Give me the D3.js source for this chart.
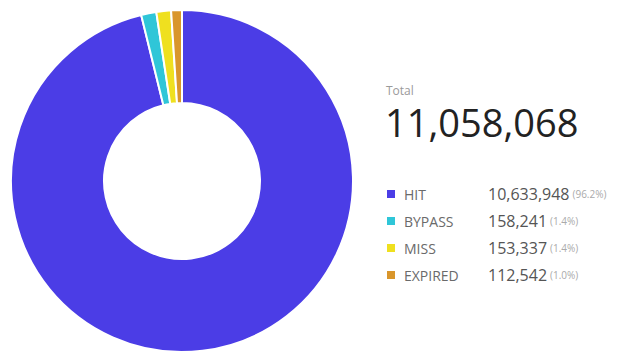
<!DOCTYPE html>
<html>
<head>
<meta charset="utf-8">
<script src="https://cdn.jsdelivr.net/npm/d3@7"></script>
<style>
  body { margin: 0; background: #fff; }
  text { font-family: "Open Sans", sans-serif; }
</style>
</head>
<body>
<div id="chart"></div>
<script>
const categories = ["HIT", "BYPASS", "MISS", "EXPIRED"];
const values = [10633948, 158241, 153337, 112542];
const percents = ["96.2%", "1.4%", "1.4%", "1.0%"];
const colors = ["#4b3de6", "#2fc6d8", "#efe01f", "#d9962b"];
const total = 11058068;

const width = 627, height = 353;
const cx = 182, cy = 181;
const outerR = 171, innerR = 78;

const svg = d3.select("#chart").append("svg")
    .attr("width", width)
    .attr("height", height);

const data = categories.map((c, i) => ({ key: c, value: values[i], pct: percents[i], color: colors[i] }));

const pie = d3.pie().value(d => d.value).sort(null);
const arc = d3.arc().innerRadius(innerR).outerRadius(outerR);

const g = svg.append("g").attr("transform", `translate(${cx},${cy})`);

g.selectAll("path")
    .data(pie(data))
    .enter()
    .append("path")
    .attr("d", arc)
    .attr("fill", d => d.data.color)
    .attr("stroke", "#fff")
    .attr("stroke-width", 2);

// total block
const fmt = d3.format(",");
const tx = 386;

svg.append("text")
    .attr("x", tx)
    .attr("y", 95)
    .style("font-size", "12px")
    .style("fill", "#9a9a9a")
    .text("Total");

svg.append("text")
    .attr("x", tx - 1)
    .attr("y", 137)
    .style("font-size", "38px")
    .style("fill", "#222")
    .text(fmt(total));

// legend
const rowY = d3.scalePoint().domain(categories).range([194, 275]);

const rows = svg.selectAll(".legend-row")
    .data(data)
    .enter()
    .append("g")
    .attr("class", "legend-row")
    .attr("transform", d => `translate(0,${rowY(d.key)})`);

rows.append("rect")
    .attr("x", 387)
    .attr("y", -4)
    .attr("width", 8)
    .attr("height", 8)
    .attr("fill", d => d.color);

rows.append("text")
    .attr("x", 404)
    .attr("y", 0)
    .attr("dominant-baseline", "central")
    .style("font-size", "14px")
    .style("fill", "#6a6a6a")
    .text(d => d.key);

const vals = rows.append("text")
    .attr("x", 488)
    .attr("y", 0)
    .attr("dominant-baseline", "central")
    .style("font-size", "16px")
    .style("fill", "#555");

vals.append("tspan").text(d => fmt(d.value));
vals.append("tspan")
    .attr("dx", 3)
    .style("font-size", "10px")
    .style("fill", "#aaa")
    .text(d => `(${d.pct})`);
</script>
</body>
</html>
